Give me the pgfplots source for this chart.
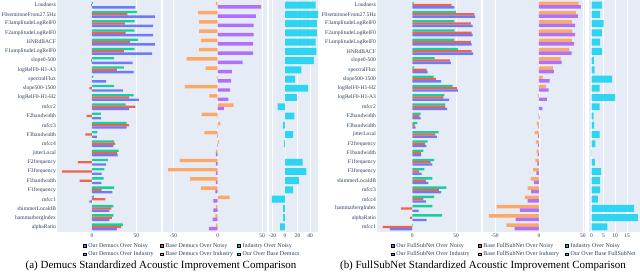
\documentclass[border=0pt]{standalone}
\usepackage{fontspec}
\setmainfont{Liberation Serif}
\usepackage{pgfplots}
\usepackage{pgfplotstable}
\pgfplotsset{compat=1.18}
\definecolor{cb}{HTML}{636EFA}
\definecolor{cr}{HTML}{EF553B}
\definecolor{cg}{HTML}{00CC96}
\definecolor{cp}{HTML}{AB63FA}
\definecolor{co}{HTML}{FFA15A}
\definecolor{cc}{HTML}{19D3F3}
\definecolor{bgc}{HTML}{E5ECF6}
\definecolor{labc}{HTML}{2A3F5F}

\pgfplotstableread{
i g r b o p c
0 1 -1 49 -2 49 49
1 51 40 71 -22 43 53
2 48 37 69 -21 40.6 51
3 48 38 69 -21 40.6 51
4 52 43 71 -19 40 49
5 48 36 68 -21 40 50
6 25 -1 46 -35 28 46
7 36 28 47 -13.5 16 26
8 1.5 0 16 -1 15 16
9 25 -3 35 -37 14 37
10 47 42 53 -9.4 12 19
11 38 49 42 18 7 -12
12 10 -6 10 -18 0.3 15
13 39 42 39 3 0.3 -3
14 6 -7.5 5.6 -15 -0.7 13
15 25 26 24 1.5 -0.7 -1.6
16 30 28.5 29 -2 -2 0.3
17 18 -16 16 -43 -2 28
18 14 -34 11 -56 -2 34
19 13 -14 10.5 -31 -2 22
20 25 11 23 -19 -2.6 13
21 2 15 -3 13.5 -5 -21
22 24 22 19.5 -2 -5 -3
23 24 22.5 19.5 -2.6 -5.6 -3
24 35 33 28 -2 -10 -8
}\dataA

\pgfplotstableread{
i g r b o p c
0 1.5 45 48 45 47.7 4.3
1 50 71 72 42 44.3 3.6
2 48 67 69 37.5 41 5.1
3 48.5 68 69 38 41 4.3
4 48 67 68 37.5 39.8 3.6
5 52 68 69.5 34.5 37 4.3
6 25.6 43 44 24.6 25.8 1
7 2 16.4 17.6 16 17 1.3
8 24.4 27 33 4 12 8.7
9 46 51 52 8 11 3.4
10 36.6 35.5 42 -1.1 9 10
11 37.4 37.8 39.7 0.3 3.8 3.4
12 9.5 8 9.5 -0.8 0.8 0.9
13 5.7 2.7 3.8 -2.5 -0.8 1.1
14 30 26 28 -5 -1.1 3.4
15 17.6 14.5 16 -3.4 -1.1 1.6
16 12.6 10 10 -2.7 -1.5 0.1
17 25 21 23 -4.2 -1.9 1.4
18 13.7 7.6 10.7 -6.8 -3 4
19 23 15.6 18.3 -9.5 -5.7 3.6
20 39 30.5 33 -13 -9 3.6
21 25 12.6 15.6 -16 -13 2.6
22 23 -13 7.3 -48 -21.6 18
23 34 -2.7 16.4 -57 -26.5 19.6
24 0.8 -34 -25.6 -37 -27.6 6.7
}\dataB

\pgfplotsset{
  panel/.style={scale only axis, anchor=north west, height=232bp,
    ymin=-0.55, ymax=24.55, y dir=reverse,
    axis background/.style={fill=bgc},
    axis line style={draw=none}, major tick length=0pt,
    xmajorgrids, grid style={white, line width=0.7bp},
    ytick=\empty,
    tick label style={font=\fontsize{5.5}{6}\selectfont, text=labc},
    /pgf/number format/assume math mode=true,
    xticklabel style={inner sep=1.5bp},
    yticklabel style={font=\fontsize{5.6}{6}\selectfont, inner sep=0.8bp},
    legend image code/.code={\fill[##1] (0bp,-1.4bp) rectangle (2.8bp,1.4bp);},
  },
  b3/.style={xbar, bar width=0.25, draw=none, fill opacity=0.9, forget plot},
  b2/.style={xbar, bar width=0.375, draw=none, fill opacity=0.9, forget plot},
  b1/.style={xbar, bar width=0.75, draw=none, fill opacity=0.9, forget plot},
  leg/.style={legend columns=3, legend cell align=left,
    legend style={at={(axis description cs:#1)}, anchor=north west, draw=none, fill=none,
      font=\fontsize{6}{6}\selectfont, text=labc, row sep=-1.5bp,
      /tikz/every even column/.append style={column sep=0pt}}},
}

\newcommand{\ylabsA}{Loudness, F0semitoneFrom27.5Hz, F3amplitudeLogRelF0, F2amplitudeLogRelF0, HNRdBACF, F1amplitudeLogRelF0, slope0-500, logRelF0-H1-A3, spectralFlux, slope500-1500, logRelF0-H1-H2, mfcc2, F2bandwidth, mfcc3, F3bandwidth, mfcc4, jitterLocal, F2frequency, F3frequency, F1bandwidth, F1frequency, mfcc1, shimmerLocaldB, hammarbergIndex, alphaRatio}
\newcommand{\ylabsB}{Loudness, F0semitoneFrom27.5Hz, F3amplitudeLogRelF0, F2amplitudeLogRelF0, F1amplitudeLogRelF0, HNRdBACF, slope0-500, spectralFlux, slope500-1500, logRelF0-H1-H2, logRelF0-H1-A3, mfcc2, F2bandwidth, F3bandwidth, jitterLocal, F2frequency, F1bandwidth, F1frequency, F3frequency, shimmerLocaldB, mfcc3, mfcc4, hammarbergIndex, alphaRatio, mfcc1}

\begin{document}
\begin{tikzpicture}[x=1bp,y=1bp]
\useasboundingbox (0,0) rectangle (640,-276);

% ---------- (a) ----------
\begin{axis}[panel, at={(57bp,0bp)}, width=104bp, xmin=-39.5, xmax=77.9, xtick={0,50},
  ytick={0,...,24}, yticklabels/.expanded={\ylabsA}, leg={0.22,-0.03}]
\addplot[b3, bar shift=-0.25, fill=cg] table[x=g,y=i]{\dataA};
\addplot[b3, bar shift=0, fill=cr] table[x=r,y=i]{\dataA};
\addplot[b3, bar shift=0.25, fill=cb] table[x=b,y=i]{\dataA};
\addlegendimage{fill=cb}\addlegendentry{\makebox[70bp][l]{Our Demucs Over Noisy}}
\addlegendimage{fill=cr}\addlegendentry{\makebox[70bp][l]{Base Demucs Over Noisy}}
\addlegendimage{fill=cg}\addlegendentry{\makebox[70bp][l]{Industry Over Noisy}}
\addlegendimage{fill=cp}\addlegendentry{\makebox[70bp][l]{Our Demucs Over Industry}}
\addlegendimage{fill=co}\addlegendentry{\makebox[70bp][l]{Base Demucs Over Industry}}
\addlegendimage{fill=cc}\addlegendentry{\makebox[70bp][l]{Our Over Base Demucs}}
\end{axis}
\begin{axis}[panel, at={(163bp,0bp)}, width=104bp, xmin=-61.7, xmax=55.6, xtick={-50,0,50}]
\addplot[b2, bar shift=-0.1875, fill=co] table[x=o,y=i]{\dataA};
\addplot[b2, bar shift=0.1875, fill=cp] table[x=p,y=i]{\dataA};
\end{axis}
\begin{axis}[panel, at={(269bp,0bp)}, width=49bp, xmin=-25.6, xmax=52.8, xtick={-20,0,20,40}]
\addplot[b1, bar shift=0, fill=cc] table[x=c,y=i]{\dataA};
\end{axis}
\node[font=\fontsize{11}{12}\selectfont] at (161,-266) {(a) Demucs Standardized Acoustic Improvement Comparison};

% ---------- (b) ----------
\begin{axis}[panel, at={(377bp,0bp)}, width=104bp, xmin=-40.4, xmax=78.6, xtick={0,50},
  ytick={0,...,24}, yticklabels/.expanded={\ylabsB}, leg={0.105,-0.03}]
\addplot[b3, bar shift=-0.25, fill=cg] table[x=g,y=i]{\dataB};
\addplot[b3, bar shift=0, fill=cr] table[x=r,y=i]{\dataB};
\addplot[b3, bar shift=0.25, fill=cb] table[x=b,y=i]{\dataB};
\addlegendimage{fill=cb}\addlegendentry{\makebox[80bp][l]{Our FullSubNet Over Noisy}}
\addlegendimage{fill=cr}\addlegendentry{\makebox[80bp][l]{Base FullSubNet Over Noisy}}
\addlegendimage{fill=cg}\addlegendentry{\makebox[80bp][l]{Industry Over Noisy}}
\addlegendimage{fill=cp}\addlegendentry{\makebox[80bp][l]{Our FullSubNet Over Industry}}
\addlegendimage{fill=co}\addlegendentry{\makebox[80bp][l]{Base FullSubNet Over Industry}}
\addlegendimage{fill=cc}\addlegendentry{\makebox[80bp][l]{Our Over Base FullSubNet}}
\end{axis}
\begin{axis}[panel, at={(483bp,0bp)}, width=102bp, xmin=-63.6, xmax=52.3, xtick={-50,0,50}]
\addplot[b2, bar shift=-0.1875, fill=co] table[x=o,y=i]{\dataB};
\addplot[b2, bar shift=0.1875, fill=cp] table[x=p,y=i]{\dataB};
\end{axis}
\begin{axis}[panel, at={(589bp,0bp)}, width=51bp, xmin=-1.1, xmax=20.5, xtick={0,5,10,15}]
\addplot[b1, bar shift=0, fill=cc] table[x=c,y=i]{\dataB};
\end{axis}
\node[font=\fontsize{11}{12}\selectfont] at (483,-266) {(b) FullSubNet Standardized Acoustic Improvement Comparison};
\end{tikzpicture}
\end{document}
